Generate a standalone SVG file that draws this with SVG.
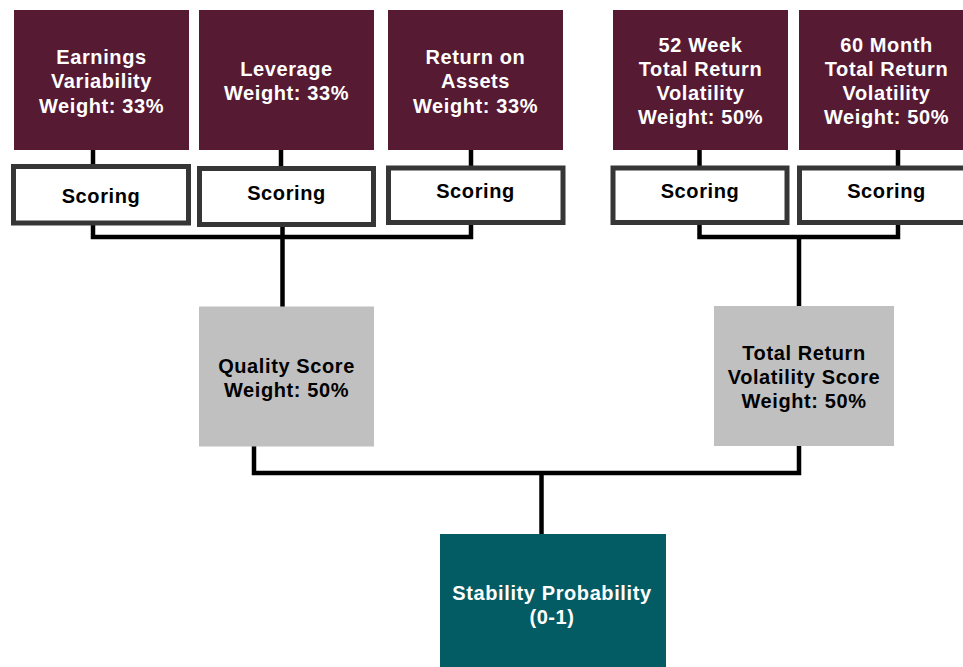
<svg xmlns="http://www.w3.org/2000/svg" width="963" height="667" viewBox="0 0 963 667">
  <style>
    .factor { fill: #561a33; }
    .score { fill: #ffffff; stroke: #363636; stroke-width: 5; }
    .agg { fill: #c0c0c0; }
    .final { fill: #035b64; }
    .wire { fill: none; stroke: #000000; stroke-width: 4.5; stroke-linejoin: miter; }
    text { font-family: "Liberation Sans", Arial, sans-serif; font-weight: bold; font-size: 20px; letter-spacing: 0.6px; text-anchor: middle; }
    .light { fill: #ffffff; }
    .dark { fill: #000000; }
  </style>
  <rect width="963" height="667" fill="#ffffff"/>

  <!-- connectors -->
  <g id="connectors">
    <path class="wire" d="M93,150 V165"/>
    <path class="wire" d="M281,150 V167"/>
    <path class="wire" d="M471,150 V166"/>
    <path class="wire" d="M699.5,150 V166"/>
    <path class="wire" d="M898,150 V166"/>
    <path class="wire" d="M93,224 V237 H471 V224"/>
    <path class="wire" d="M282.5,226 V307"/>
    <path class="wire" d="M699.5,224 V237 H898 V224"/>
    <path class="wire" d="M799,237 V306"/>
    <path class="wire" d="M254,446 V473 H799 V445"/>
    <path class="wire" d="M541.5,473 V534"/>
  </g>

  <!-- input factors -->
  <g id="earnings-variability">
    <rect class="factor" x="14" y="10" width="175" height="140"/>
    <text class="light" x="101.5" y="63.5">Earnings</text>
    <text class="light" x="101.5" y="88">Variability</text>
    <text class="light" x="101.5" y="112.5">Weight: 33%</text>
  </g>
  <g id="leverage">
    <rect class="factor" x="199" y="10" width="175" height="140"/>
    <text class="light" x="286.5" y="75.5">Leverage</text>
    <text class="light" x="286.5" y="99.5">Weight: 33%</text>
  </g>
  <g id="return-on-assets">
    <rect class="factor" x="388" y="10" width="175" height="140"/>
    <text class="light" x="475.5" y="63.5">Return on</text>
    <text class="light" x="475.5" y="88">Assets</text>
    <text class="light" x="475.5" y="112.5">Weight: 33%</text>
  </g>
  <g id="vol-52-week">
    <rect class="factor" x="613" y="10" width="175" height="140"/>
    <text class="light" x="700.5" y="52">52 Week</text>
    <text class="light" x="700.5" y="76">Total Return</text>
    <text class="light" x="700.5" y="100">Volatility</text>
    <text class="light" x="700.5" y="124">Weight: 50%</text>
  </g>
  <g id="vol-60-month">
    <rect class="factor" x="799" y="10" width="175" height="140"/>
    <text class="light" x="886.5" y="52">60 Month</text>
    <text class="light" x="886.5" y="76">Total Return</text>
    <text class="light" x="886.5" y="100">Volatility</text>
    <text class="light" x="886.5" y="124">Weight: 50%</text>
  </g>

  <!-- scoring steps -->
  <g id="scoring-1">
    <rect class="score" x="13.5" y="166.5" width="175" height="56.5"/>
    <text class="dark" x="101" y="202.5">Scoring</text>
  </g>
  <g id="scoring-2">
    <rect class="score" x="199.5" y="168.5" width="174" height="56"/>
    <text class="dark" x="286.5" y="200">Scoring</text>
  </g>
  <g id="scoring-3">
    <rect class="score" x="388.5" y="168" width="174.5" height="54.5"/>
    <text class="dark" x="475.5" y="198">Scoring</text>
  </g>
  <g id="scoring-4">
    <rect class="score" x="613" y="168" width="174" height="54.5"/>
    <text class="dark" x="700" y="198">Scoring</text>
  </g>
  <g id="scoring-5">
    <rect class="score" x="799.5" y="168" width="174.5" height="54.5"/>
    <text class="dark" x="886.5" y="198">Scoring</text>
  </g>

  <!-- aggregate scores -->
  <g id="quality-score">
    <rect class="agg" x="199" y="306.5" width="175" height="140"/>
    <text class="dark" x="286.5" y="372.5">Quality Score</text>
    <text class="dark" x="286.5" y="396.5">Weight: 50%</text>
  </g>
  <g id="volatility-score">
    <rect class="agg" x="714" y="306" width="180" height="140"/>
    <text class="dark" x="804" y="359.5">Total Return</text>
    <text class="dark" x="804" y="383.5">Volatility Score</text>
    <text class="dark" x="804" y="407.5">Weight: 50%</text>
  </g>

  <!-- result -->
  <g id="stability-probability">
    <rect class="final" x="440" y="534" width="226" height="140"/>
    <text class="light" x="552" y="600">Stability Probability</text>
    <text class="light" x="552" y="623.5">(0-1)</text>
  </g>
</svg>
